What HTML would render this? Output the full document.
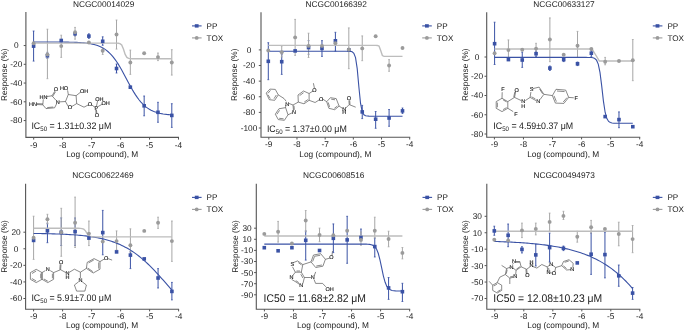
<!DOCTYPE html>
<html><head><meta charset="utf-8"><style>
html,body{margin:0;padding:0;background:#fff;}
svg{display:block;will-change:transform;}
text{text-rendering:geometricPrecision;}
.t{font-family:'Liberation Sans',sans-serif;font-size:8.3px;fill:#1a1a1a;}
.ti{font-family:'Liberation Sans',sans-serif;font-size:8.3px;fill:#1a1a1a;}
.ic{font-family:'Liberation Sans',sans-serif;font-size:8.85px;fill:#1a1a1a;}
.ic2{font-family:'Liberation Sans',sans-serif;font-size:10.38px;fill:#1a1a1a;}
.lg{font-family:'Liberation Sans',sans-serif;font-size:8.15px;fill:#1a1a1a;}
.s{font-family:'Liberation Sans',sans-serif;font-size:5.5px;fill:#111;stroke:#111;stroke-width:0.12px;}
.st{fill:none;stroke:#3a3a3a;stroke-width:0.6;}
</style></head><body>
<svg width="685" height="331" viewBox="0 0 685 331">
<rect width="685" height="331" fill="#fff"/>
<path d="M25.9,12.1 V137.4 H179.0" fill="none" stroke="#555" stroke-width="1.1"/>
<line x1="33.70" y1="137.4" x2="33.70" y2="139.6" stroke="#555" stroke-width="1"/>
<text x="33.70" y="147.5" text-anchor="middle" class="t">-9</text>
<line x1="62.66" y1="137.4" x2="62.66" y2="139.6" stroke="#555" stroke-width="1"/>
<text x="62.66" y="147.5" text-anchor="middle" class="t">-8</text>
<line x1="91.62" y1="137.4" x2="91.62" y2="139.6" stroke="#555" stroke-width="1"/>
<text x="91.62" y="147.5" text-anchor="middle" class="t">-7</text>
<line x1="120.58" y1="137.4" x2="120.58" y2="139.6" stroke="#555" stroke-width="1"/>
<text x="120.58" y="147.5" text-anchor="middle" class="t">-6</text>
<line x1="149.54" y1="137.4" x2="149.54" y2="139.6" stroke="#555" stroke-width="1"/>
<text x="149.54" y="147.5" text-anchor="middle" class="t">-5</text>
<line x1="178.50" y1="137.4" x2="178.50" y2="139.6" stroke="#555" stroke-width="1"/>
<text x="178.50" y="147.5" text-anchor="middle" class="t">-4</text>
<line x1="23.7" y1="45.55" x2="25.9" y2="45.55" stroke="#555" stroke-width="1"/>
<text x="16.3" y="48.45" text-anchor="middle" class="t">0</text>
<line x1="23.7" y1="64.30" x2="25.9" y2="64.30" stroke="#555" stroke-width="1"/>
<text x="16.3" y="67.20" text-anchor="middle" class="t">-20</text>
<line x1="23.7" y1="83.05" x2="25.9" y2="83.05" stroke="#555" stroke-width="1"/>
<text x="16.3" y="85.95" text-anchor="middle" class="t">-40</text>
<line x1="23.7" y1="101.80" x2="25.9" y2="101.80" stroke="#555" stroke-width="1"/>
<text x="16.3" y="104.70" text-anchor="middle" class="t">-60</text>
<line x1="23.7" y1="120.55" x2="25.9" y2="120.55" stroke="#555" stroke-width="1"/>
<text x="16.3" y="123.45" text-anchor="middle" class="t">-80</text>
<text x="103.60" y="6.6" text-anchor="middle" class="ti">NCGC00014029</text>
<text x="102.20" y="156.70" text-anchor="middle" class="t">Log (compound), M</text>
<text transform="translate(7.0,74.75) rotate(-90)" text-anchor="middle" class="t">Response (%)</text>
<line x1="192.0" y1="25.9" x2="201.6" y2="25.9" stroke="#3a52a5" stroke-width="1.1"/>
<rect x="194.79999999999998" y="24.2" width="3.8" height="3.4" fill="#3a52a5"/>
<text x="206.6" y="28.5" class="lg">PP</text>
<line x1="192.0" y1="37.9" x2="201.6" y2="37.9" stroke="#9b9b9b" stroke-width="1.1"/>
<circle cx="196.7" cy="37.9" r="1.9" fill="#9b9b9b"/>
<text x="206.6" y="40.5" class="lg">TOX</text>
<path class="st" d="M36.6,104.5 L42.8,104.8 M36.64,103.60 L42.84,103.90 M42.8,104.8 L43.3,99.3 M46.5,96.6 L52.0,95.8 M52.0,95.8 L54.8,91.2 M52.77,96.27 L55.57,91.67 M52.0,95.8 L56.0,100.3 M56.6,103.8 L54.6,107.8 M54.6,107.8 L46.0,108.6 M53.23,107.02 L47.21,107.58 M46.0,108.6 L42.8,104.8 M59.3,101.9 L65.5,101.5 M65.5,101.5 L68.3,94.5 L76.1,95.7 L76.7,103.6 L71.6,106.6 M68.3,106.6 L65.5,101.5 M68.3,94.5 L67.6,90.3 M76.1,95.7 L80.0,92.6 M76.7,103.6 L84.0,107.2 L88.3,104.9 M91.3,104.6 L95.0,107.3 M96.5,106.0 L97.6,101.0 M98.0,106.6 L102.2,104.2 M96.4,109.5 L96.8,113.2 M95.70,109.58 L96.10,113.28"/><text x="29.0" y="106.39999999999999" text-anchor="start" class="s">HN</text><text x="43.5" y="98.5" text-anchor="middle" class="s">HN</text><text x="55.9" y="91.2" text-anchor="middle" class="s">O</text><text x="57.7" y="103.8" text-anchor="middle" class="s">N</text><text x="64.0" y="90.0" text-anchor="middle" class="s">HO</text><text x="84.0" y="93.3" text-anchor="middle" class="s">OH</text><text x="69.9" y="109.0" text-anchor="middle" class="s">O</text><text x="89.8" y="106.1" text-anchor="middle" class="s">O</text><text x="96.3" y="109.8" text-anchor="middle" class="s">P</text><text x="99.3" y="101.39999999999999" text-anchor="middle" class="s">OH</text><text x="105.6" y="105.2" text-anchor="middle" class="s">OH</text><text x="96.9" y="116.89999999999999" text-anchor="middle" class="s">O</text>
<line x1="33.60" y1="31.00" x2="33.60" y2="61.10" stroke="#3a52a5" stroke-width="1"/>
<line x1="32.70" y1="31.00" x2="34.50" y2="31.00" stroke="#3a52a5" stroke-width="0.8"/>
<line x1="32.70" y1="61.10" x2="34.50" y2="61.10" stroke="#3a52a5" stroke-width="0.8"/>
<line x1="47.42" y1="52.30" x2="47.42" y2="58.50" stroke="#3a52a5" stroke-width="1"/>
<line x1="46.52" y1="52.30" x2="48.32" y2="52.30" stroke="#3a52a5" stroke-width="0.8"/>
<line x1="46.52" y1="58.50" x2="48.32" y2="58.50" stroke="#3a52a5" stroke-width="0.8"/>
<line x1="75.06" y1="31.50" x2="75.06" y2="36.00" stroke="#3a52a5" stroke-width="1"/>
<line x1="74.16" y1="31.50" x2="75.96" y2="31.50" stroke="#3a52a5" stroke-width="0.8"/>
<line x1="74.16" y1="36.00" x2="75.96" y2="36.00" stroke="#3a52a5" stroke-width="0.8"/>
<line x1="88.88" y1="33.80" x2="88.88" y2="38.40" stroke="#3a52a5" stroke-width="1"/>
<line x1="87.98" y1="33.80" x2="89.78" y2="33.80" stroke="#3a52a5" stroke-width="0.8"/>
<line x1="87.98" y1="38.40" x2="89.78" y2="38.40" stroke="#3a52a5" stroke-width="0.8"/>
<line x1="102.70" y1="36.80" x2="102.70" y2="45.30" stroke="#3a52a5" stroke-width="1"/>
<line x1="101.80" y1="36.80" x2="103.60" y2="36.80" stroke="#3a52a5" stroke-width="0.8"/>
<line x1="101.80" y1="45.30" x2="103.60" y2="45.30" stroke="#3a52a5" stroke-width="0.8"/>
<line x1="116.52" y1="64.00" x2="116.52" y2="73.00" stroke="#3a52a5" stroke-width="1"/>
<line x1="115.62" y1="64.00" x2="117.42" y2="64.00" stroke="#3a52a5" stroke-width="0.8"/>
<line x1="115.62" y1="73.00" x2="117.42" y2="73.00" stroke="#3a52a5" stroke-width="0.8"/>
<line x1="144.16" y1="96.00" x2="144.16" y2="115.80" stroke="#3a52a5" stroke-width="1"/>
<line x1="143.26" y1="96.00" x2="145.06" y2="96.00" stroke="#3a52a5" stroke-width="0.8"/>
<line x1="143.26" y1="115.80" x2="145.06" y2="115.80" stroke="#3a52a5" stroke-width="0.8"/>
<line x1="157.98" y1="102.30" x2="157.98" y2="122.30" stroke="#3a52a5" stroke-width="1"/>
<line x1="157.08" y1="102.30" x2="158.88" y2="102.30" stroke="#3a52a5" stroke-width="0.8"/>
<line x1="157.08" y1="122.30" x2="158.88" y2="122.30" stroke="#3a52a5" stroke-width="0.8"/>
<line x1="171.80" y1="103.70" x2="171.80" y2="127.40" stroke="#3a52a5" stroke-width="1"/>
<line x1="170.90" y1="103.70" x2="172.70" y2="103.70" stroke="#3a52a5" stroke-width="0.8"/>
<line x1="170.90" y1="127.40" x2="172.70" y2="127.40" stroke="#3a52a5" stroke-width="0.8"/>
<line x1="47.42" y1="29.20" x2="47.42" y2="78.70" stroke="#a6a6a6" stroke-width="1"/>
<line x1="46.52" y1="29.20" x2="48.32" y2="29.20" stroke="#a6a6a6" stroke-width="0.8"/>
<line x1="46.52" y1="78.70" x2="48.32" y2="78.70" stroke="#a6a6a6" stroke-width="0.8"/>
<line x1="61.24" y1="35.20" x2="61.24" y2="57.40" stroke="#a6a6a6" stroke-width="1"/>
<line x1="60.34" y1="35.20" x2="62.14" y2="35.20" stroke="#a6a6a6" stroke-width="0.8"/>
<line x1="60.34" y1="57.40" x2="62.14" y2="57.40" stroke="#a6a6a6" stroke-width="0.8"/>
<line x1="75.06" y1="27.40" x2="75.06" y2="39.20" stroke="#a6a6a6" stroke-width="1"/>
<line x1="74.16" y1="27.40" x2="75.96" y2="27.40" stroke="#a6a6a6" stroke-width="0.8"/>
<line x1="74.16" y1="39.20" x2="75.96" y2="39.20" stroke="#a6a6a6" stroke-width="0.8"/>
<line x1="102.70" y1="48.10" x2="102.70" y2="54.50" stroke="#a6a6a6" stroke-width="1"/>
<line x1="101.80" y1="48.10" x2="103.60" y2="48.10" stroke="#a6a6a6" stroke-width="0.8"/>
<line x1="101.80" y1="54.50" x2="103.60" y2="54.50" stroke="#a6a6a6" stroke-width="0.8"/>
<line x1="116.52" y1="20.00" x2="116.52" y2="49.10" stroke="#a6a6a6" stroke-width="1"/>
<line x1="115.62" y1="20.00" x2="117.42" y2="20.00" stroke="#a6a6a6" stroke-width="0.8"/>
<line x1="115.62" y1="49.10" x2="117.42" y2="49.10" stroke="#a6a6a6" stroke-width="0.8"/>
<line x1="130.34" y1="50.10" x2="130.34" y2="74.40" stroke="#a6a6a6" stroke-width="1"/>
<line x1="129.44" y1="50.10" x2="131.24" y2="50.10" stroke="#a6a6a6" stroke-width="0.8"/>
<line x1="129.44" y1="74.40" x2="131.24" y2="74.40" stroke="#a6a6a6" stroke-width="0.8"/>
<line x1="157.98" y1="53.00" x2="157.98" y2="60.60" stroke="#a6a6a6" stroke-width="1"/>
<line x1="157.08" y1="53.00" x2="158.88" y2="53.00" stroke="#a6a6a6" stroke-width="0.8"/>
<line x1="157.08" y1="60.60" x2="158.88" y2="60.60" stroke="#a6a6a6" stroke-width="0.8"/>
<line x1="171.80" y1="49.70" x2="171.80" y2="75.10" stroke="#a6a6a6" stroke-width="1"/>
<line x1="170.90" y1="49.70" x2="172.70" y2="49.70" stroke="#a6a6a6" stroke-width="0.8"/>
<line x1="170.90" y1="75.10" x2="172.70" y2="75.10" stroke="#a6a6a6" stroke-width="0.8"/>
<path d="M33.60,41.97 L35.33,41.97 L37.05,41.97 L38.78,41.97 L40.51,41.97 L42.24,41.97 L43.97,41.98 L45.69,41.98 L47.42,41.98 L49.15,41.99 L50.88,41.99 L52.60,42.00 L54.33,42.00 L56.06,42.01 L57.79,42.02 L59.51,42.03 L61.24,42.05 L62.97,42.07 L64.70,42.09 L66.42,42.11 L68.15,42.14 L69.88,42.18 L71.61,42.22 L73.33,42.27 L75.06,42.33 L76.79,42.40 L78.52,42.49 L80.24,42.59 L81.97,42.71 L83.70,42.85 L85.43,43.03 L87.15,43.23 L88.88,43.47 L90.61,43.76 L92.34,44.10 L94.06,44.50 L95.79,44.98 L97.52,45.54 L99.25,46.19 L100.97,46.96 L102.70,47.86 L104.43,48.90 L106.16,50.10 L107.88,51.48 L109.61,53.05 L111.34,54.83 L113.06,56.83 L114.79,59.06 L116.52,61.50 L118.25,64.16 L119.98,67.01 L121.70,70.03 L123.43,73.18 L125.16,76.41 L126.89,79.68 L128.61,82.94 L130.34,86.13 L132.07,89.21 L133.80,92.14 L135.52,94.89 L137.25,97.43 L138.98,99.75 L140.71,101.85 L142.43,103.72 L144.16,105.39 L145.89,106.85 L147.62,108.13 L149.34,109.24 L151.07,110.19 L152.80,111.02 L154.53,111.72 L156.25,112.32 L157.98,112.83 L159.71,113.26 L161.44,113.63 L163.16,113.94 L164.89,114.20 L166.62,114.42 L168.35,114.60 L170.07,114.76 L171.80,114.89" fill="none" stroke="#3a52a5" stroke-width="1.1"/>
<path d="M33.60,43.10 L35.33,43.10 L37.05,43.10 L38.78,43.10 L40.51,43.10 L42.24,43.10 L43.97,43.10 L45.69,43.10 L47.42,43.10 L49.15,43.10 L50.88,43.10 L52.60,43.10 L54.33,43.10 L56.06,43.10 L57.79,43.10 L59.51,43.10 L61.24,43.10 L62.97,43.10 L64.70,43.10 L66.42,43.10 L68.15,43.10 L69.88,43.10 L71.61,43.10 L73.33,43.10 L75.06,43.10 L76.79,43.10 L78.52,43.10 L80.24,43.10 L81.97,43.10 L83.70,43.10 L85.43,43.10 L87.15,43.10 L88.88,43.10 L90.61,43.10 L92.34,43.10 L94.06,43.10 L95.79,43.10 L97.52,43.10 L99.25,43.10 L100.97,43.10 L102.70,43.10 L104.43,43.10 L106.16,43.10 L107.88,43.10 L109.61,43.10 L111.34,43.10 L113.06,43.10 L114.79,43.11 L116.52,43.13 L118.25,43.22 L119.98,43.59 L121.70,45.04 L123.43,49.05 L125.16,54.45 L126.89,57.46 L128.61,58.40 L130.34,58.63 L132.07,58.68 L133.80,58.70 L135.52,58.70 L137.25,58.70 L138.98,58.70 L140.71,58.70 L142.43,58.70 L144.16,58.70 L145.89,58.70 L147.62,58.70 L149.34,58.70 L151.07,58.70 L152.80,58.70 L154.53,58.70 L156.25,58.70 L157.98,58.70 L159.71,58.70 L161.44,58.70 L163.16,58.70 L164.89,58.70 L166.62,58.70 L168.35,58.70 L170.07,58.70 L171.80,58.70" fill="none" stroke="#bdbdbd" stroke-width="1.4"/>
<rect x="31.80" y="44.30" width="3.6" height="3.6" fill="#3a52a5"/>
<rect x="45.62" y="54.00" width="3.6" height="3.6" fill="#3a52a5"/>
<rect x="59.44" y="38.70" width="3.6" height="3.6" fill="#3a52a5"/>
<rect x="73.26" y="32.00" width="3.6" height="3.6" fill="#3a52a5"/>
<rect x="87.08" y="34.30" width="3.6" height="3.6" fill="#3a52a5"/>
<rect x="100.90" y="39.50" width="3.6" height="3.6" fill="#3a52a5"/>
<rect x="114.72" y="66.70" width="3.6" height="3.6" fill="#3a52a5"/>
<rect x="128.54" y="85.40" width="3.6" height="3.6" fill="#3a52a5"/>
<rect x="142.36" y="104.00" width="3.6" height="3.6" fill="#3a52a5"/>
<rect x="156.18" y="110.50" width="3.6" height="3.6" fill="#3a52a5"/>
<rect x="170.00" y="113.60" width="3.6" height="3.6" fill="#3a52a5"/>
<circle cx="33.60" cy="43.20" r="1.95" fill="#9b9b9b"/>
<circle cx="47.42" cy="54.50" r="1.95" fill="#9b9b9b"/>
<circle cx="61.24" cy="46.10" r="1.95" fill="#9b9b9b"/>
<circle cx="75.06" cy="32.30" r="1.95" fill="#9b9b9b"/>
<circle cx="88.88" cy="42.50" r="1.95" fill="#9b9b9b"/>
<circle cx="102.70" cy="50.80" r="1.95" fill="#9b9b9b"/>
<circle cx="116.52" cy="34.50" r="1.95" fill="#9b9b9b"/>
<circle cx="130.34" cy="62.50" r="1.95" fill="#9b9b9b"/>
<circle cx="144.16" cy="53.30" r="1.95" fill="#9b9b9b"/>
<circle cx="157.98" cy="57.10" r="1.95" fill="#9b9b9b"/>
<circle cx="171.80" cy="62.50" r="1.95" fill="#9b9b9b"/>
<text transform="translate(31.4,129.4) scale(1,1.07)" class="ic">IC<tspan font-size="6.1" dy="1.9">50</tspan><tspan dy="-1.9"> = 1.31±0.32 μM</tspan></text>
<path d="M261.0,12.3 V137.3 H410.20000000000005" fill="none" stroke="#555" stroke-width="1.1"/>
<line x1="268.80" y1="137.3" x2="268.80" y2="139.5" stroke="#555" stroke-width="1"/>
<text x="268.80" y="147.4" text-anchor="middle" class="t">-9</text>
<line x1="296.98" y1="137.3" x2="296.98" y2="139.5" stroke="#555" stroke-width="1"/>
<text x="296.98" y="147.4" text-anchor="middle" class="t">-8</text>
<line x1="325.16" y1="137.3" x2="325.16" y2="139.5" stroke="#555" stroke-width="1"/>
<text x="325.16" y="147.4" text-anchor="middle" class="t">-7</text>
<line x1="353.34" y1="137.3" x2="353.34" y2="139.5" stroke="#555" stroke-width="1"/>
<text x="353.34" y="147.4" text-anchor="middle" class="t">-6</text>
<line x1="381.52" y1="137.3" x2="381.52" y2="139.5" stroke="#555" stroke-width="1"/>
<text x="381.52" y="147.4" text-anchor="middle" class="t">-5</text>
<line x1="409.70" y1="137.3" x2="409.70" y2="139.5" stroke="#555" stroke-width="1"/>
<text x="409.70" y="147.4" text-anchor="middle" class="t">-4</text>
<line x1="258.8" y1="49.90" x2="261.0" y2="49.90" stroke="#555" stroke-width="1"/>
<text x="249.0" y="52.80" text-anchor="middle" class="t">0</text>
<line x1="258.8" y1="65.52" x2="261.0" y2="65.52" stroke="#555" stroke-width="1"/>
<text x="249.0" y="68.42" text-anchor="middle" class="t">-20</text>
<line x1="258.8" y1="81.14" x2="261.0" y2="81.14" stroke="#555" stroke-width="1"/>
<text x="249.0" y="84.04" text-anchor="middle" class="t">-40</text>
<line x1="258.8" y1="96.76" x2="261.0" y2="96.76" stroke="#555" stroke-width="1"/>
<text x="249.0" y="99.66" text-anchor="middle" class="t">-60</text>
<line x1="258.8" y1="112.38" x2="261.0" y2="112.38" stroke="#555" stroke-width="1"/>
<text x="249.0" y="115.28" text-anchor="middle" class="t">-80</text>
<line x1="258.8" y1="128.00" x2="261.0" y2="128.00" stroke="#555" stroke-width="1"/>
<text x="249.0" y="130.90" text-anchor="middle" class="t">-100</text>
<text x="336.15" y="6.6" text-anchor="middle" class="ti">NCGC00166392</text>
<text x="335.35" y="156.60" text-anchor="middle" class="t">Log (compound), M</text>
<text transform="translate(237.4,74.80) rotate(-90)" text-anchor="middle" class="t">Response (%)</text>
<line x1="422.2" y1="25.9" x2="431.79999999999995" y2="25.9" stroke="#3a52a5" stroke-width="1.1"/>
<rect x="425.0" y="24.2" width="3.8" height="3.4" fill="#3a52a5"/>
<text x="436.79999999999995" y="28.5" class="lg">PP</text>
<line x1="422.2" y1="37.9" x2="431.79999999999995" y2="37.9" stroke="#9b9b9b" stroke-width="1.1"/>
<circle cx="426.9" cy="37.9" r="1.9" fill="#9b9b9b"/>
<text x="436.79999999999995" y="40.5" class="lg">TOX</text>
<path class="st" d="M266.2,93.1 L269.9,89.1 L275.3,89.4 L278.3,94.9 L274.7,100.3 L269.3,99.7 L266.2,93.1 M267.9,93.4 L270.5,90.4 M276.3,95.0 L274.0,98.7 M270.3,98.6 L268.0,94.8 M278.3,94.9 L284.0,98.5 L286.2,101.3 M288.6,103.3 L293.0,105.0 M293.0,105.0 L293.5,110.8 M293.97,105.79 L294.32,109.85 M292.2,112.8 L288.0,114.8 M285.8,105.0 L285.6,107.6 L288.0,114.8 M285.6,107.6 L278.9,108.8 L275.3,114.2 L278.3,119.6 L284.4,120.3 L288.0,114.8 M279.6,110.3 L276.9,114.3 M279.2,118.3 L283.6,118.8 M293.0,105.0 L298.3,102.1 M298.3,102.1 L298.0,95.0 L303.5,91.0 L309.1,93.5 L309.1,100.3 L304.0,103.8 L298.3,102.1 M299.6,95.6 L303.6,92.7 M307.8,99.6 L304.2,102.1 M309.1,93.5 L313.0,91.0 M314.4,88.0 L313.4,83.2 M309.1,100.3 L315.1,102.5 L319.8,99.5 M322.6,99.0 L326.7,101.7 M326.7,101.7 L330.4,97.7 L336.2,98.6 L339.1,106.1 L334.7,109.7 L328.9,108.3 L326.7,101.7 M331.2,99.2 L335.0,99.8 M337.4,106.0 L334.3,108.4 M329.6,106.9 L328.2,102.4 M339.1,106.1 L342.6,108.4 M345.6,108.2 L349.2,104.6 L355.7,107.2 M349.2,104.6 L348.9,100.3 M350.00,104.54 L349.70,100.24"/><text x="287.3" y="105.5" text-anchor="middle" class="s">N</text><text x="294.0" y="114.39999999999999" text-anchor="middle" class="s">N</text><text x="314.3" y="91.6" text-anchor="middle" class="s">O</text><text x="321.2" y="100.6" text-anchor="middle" class="s">O</text><text x="344.2" y="110.7" text-anchor="middle" class="s">N</text><text x="344.2" y="114.39999999999999" text-anchor="middle" class="s">H</text><text x="348.8" y="100.2" text-anchor="middle" class="s">O</text>
<line x1="268.30" y1="42.70" x2="268.30" y2="79.70" stroke="#3a52a5" stroke-width="1"/>
<line x1="267.40" y1="42.70" x2="269.20" y2="42.70" stroke="#3a52a5" stroke-width="0.8"/>
<line x1="267.40" y1="79.70" x2="269.20" y2="79.70" stroke="#3a52a5" stroke-width="0.8"/>
<line x1="281.72" y1="54.30" x2="281.72" y2="74.40" stroke="#3a52a5" stroke-width="1"/>
<line x1="280.82" y1="54.30" x2="282.62" y2="54.30" stroke="#3a52a5" stroke-width="0.8"/>
<line x1="280.82" y1="74.40" x2="282.62" y2="74.40" stroke="#3a52a5" stroke-width="0.8"/>
<line x1="308.56" y1="40.60" x2="308.56" y2="54.30" stroke="#3a52a5" stroke-width="1"/>
<line x1="307.66" y1="40.60" x2="309.46" y2="40.60" stroke="#3a52a5" stroke-width="0.8"/>
<line x1="307.66" y1="54.30" x2="309.46" y2="54.30" stroke="#3a52a5" stroke-width="0.8"/>
<line x1="321.98" y1="40.60" x2="321.98" y2="56.40" stroke="#3a52a5" stroke-width="1"/>
<line x1="321.08" y1="40.60" x2="322.88" y2="40.60" stroke="#3a52a5" stroke-width="0.8"/>
<line x1="321.08" y1="56.40" x2="322.88" y2="56.40" stroke="#3a52a5" stroke-width="0.8"/>
<line x1="335.40" y1="32.30" x2="335.40" y2="51.20" stroke="#3a52a5" stroke-width="1"/>
<line x1="334.50" y1="32.30" x2="336.30" y2="32.30" stroke="#3a52a5" stroke-width="0.8"/>
<line x1="334.50" y1="51.20" x2="336.30" y2="51.20" stroke="#3a52a5" stroke-width="0.8"/>
<line x1="362.24" y1="105.40" x2="362.24" y2="118.60" stroke="#3a52a5" stroke-width="1"/>
<line x1="361.34" y1="105.40" x2="363.14" y2="105.40" stroke="#3a52a5" stroke-width="0.8"/>
<line x1="361.34" y1="118.60" x2="363.14" y2="118.60" stroke="#3a52a5" stroke-width="0.8"/>
<line x1="375.66" y1="111.50" x2="375.66" y2="128.30" stroke="#3a52a5" stroke-width="1"/>
<line x1="374.76" y1="111.50" x2="376.56" y2="111.50" stroke="#3a52a5" stroke-width="0.8"/>
<line x1="374.76" y1="128.30" x2="376.56" y2="128.30" stroke="#3a52a5" stroke-width="0.8"/>
<line x1="389.08" y1="109.50" x2="389.08" y2="126.30" stroke="#3a52a5" stroke-width="1"/>
<line x1="388.18" y1="109.50" x2="389.98" y2="109.50" stroke="#3a52a5" stroke-width="0.8"/>
<line x1="388.18" y1="126.30" x2="389.98" y2="126.30" stroke="#3a52a5" stroke-width="0.8"/>
<line x1="402.50" y1="108.00" x2="402.50" y2="113.50" stroke="#3a52a5" stroke-width="1"/>
<line x1="401.60" y1="108.00" x2="403.40" y2="108.00" stroke="#3a52a5" stroke-width="0.8"/>
<line x1="401.60" y1="113.50" x2="403.40" y2="113.50" stroke="#3a52a5" stroke-width="0.8"/>
<line x1="281.72" y1="45.90" x2="281.72" y2="57.00" stroke="#a6a6a6" stroke-width="1"/>
<line x1="280.82" y1="45.90" x2="282.62" y2="45.90" stroke="#a6a6a6" stroke-width="0.8"/>
<line x1="280.82" y1="57.00" x2="282.62" y2="57.00" stroke="#a6a6a6" stroke-width="0.8"/>
<line x1="295.14" y1="19.40" x2="295.14" y2="55.40" stroke="#a6a6a6" stroke-width="1"/>
<line x1="294.24" y1="19.40" x2="296.04" y2="19.40" stroke="#a6a6a6" stroke-width="0.8"/>
<line x1="294.24" y1="55.40" x2="296.04" y2="55.40" stroke="#a6a6a6" stroke-width="0.8"/>
<line x1="308.56" y1="33.20" x2="308.56" y2="57.50" stroke="#a6a6a6" stroke-width="1"/>
<line x1="307.66" y1="33.20" x2="309.46" y2="33.20" stroke="#a6a6a6" stroke-width="0.8"/>
<line x1="307.66" y1="57.50" x2="309.46" y2="57.50" stroke="#a6a6a6" stroke-width="0.8"/>
<line x1="348.82" y1="27.90" x2="348.82" y2="68.70" stroke="#a6a6a6" stroke-width="1"/>
<line x1="347.92" y1="27.90" x2="349.72" y2="27.90" stroke="#a6a6a6" stroke-width="0.8"/>
<line x1="347.92" y1="68.70" x2="349.72" y2="68.70" stroke="#a6a6a6" stroke-width="0.8"/>
<line x1="362.24" y1="35.90" x2="362.24" y2="60.70" stroke="#a6a6a6" stroke-width="1"/>
<line x1="361.34" y1="35.90" x2="363.14" y2="35.90" stroke="#a6a6a6" stroke-width="0.8"/>
<line x1="361.34" y1="60.70" x2="363.14" y2="60.70" stroke="#a6a6a6" stroke-width="0.8"/>
<line x1="389.08" y1="59.60" x2="389.08" y2="71.30" stroke="#a6a6a6" stroke-width="1"/>
<line x1="388.18" y1="59.60" x2="389.98" y2="59.60" stroke="#a6a6a6" stroke-width="0.8"/>
<line x1="388.18" y1="71.30" x2="389.98" y2="71.30" stroke="#a6a6a6" stroke-width="0.8"/>
<path d="M268.30,51.20 L269.98,51.20 L271.66,51.20 L273.33,51.20 L275.01,51.20 L276.69,51.20 L278.37,51.20 L280.04,51.20 L281.72,51.20 L283.40,51.20 L285.07,51.20 L286.75,51.20 L288.43,51.20 L290.11,51.20 L291.79,51.20 L293.46,51.20 L295.14,51.20 L296.82,51.20 L298.50,51.20 L300.17,51.20 L301.85,51.20 L303.53,51.20 L305.20,51.20 L306.88,51.20 L308.56,51.20 L310.24,51.20 L311.92,51.20 L313.59,51.20 L315.27,51.20 L316.95,51.20 L318.62,51.20 L320.30,51.20 L321.98,51.20 L323.66,51.20 L325.33,51.20 L327.01,51.20 L328.69,51.20 L330.37,51.20 L332.05,51.20 L333.72,51.20 L335.40,51.20 L337.08,51.20 L338.75,51.20 L340.43,51.20 L342.11,51.20 L343.79,51.20 L345.47,51.21 L347.14,51.22 L348.82,51.26 L350.50,51.39 L352.18,51.83 L353.85,53.26 L355.53,57.62 L357.21,68.65 L358.88,87.02 L360.56,103.48 L362.24,111.79 L363.92,114.82 L365.60,115.78 L367.27,116.07 L368.95,116.16 L370.63,116.19 L372.31,116.20 L373.98,116.20 L375.66,116.20 L377.34,116.20 L379.01,116.20 L380.69,116.20 L382.37,116.20 L384.05,116.20 L385.73,116.20 L387.40,116.20 L389.08,116.20 L390.76,116.20 L392.44,116.20 L394.11,116.20 L395.79,116.20 L397.47,116.20 L399.14,116.20 L400.82,116.20 L402.50,116.20" fill="none" stroke="#3a52a5" stroke-width="1.1"/>
<path d="M268.30,45.40 L269.98,45.40 L271.66,45.40 L273.33,45.40 L275.01,45.40 L276.69,45.40 L278.37,45.40 L280.04,45.40 L281.72,45.40 L283.40,45.40 L285.07,45.40 L286.75,45.40 L288.43,45.40 L290.11,45.40 L291.79,45.40 L293.46,45.40 L295.14,45.40 L296.82,45.40 L298.50,45.40 L300.17,45.40 L301.85,45.40 L303.53,45.40 L305.20,45.40 L306.88,45.40 L308.56,45.40 L310.24,45.40 L311.92,45.40 L313.59,45.40 L315.27,45.40 L316.95,45.40 L318.62,45.40 L320.30,45.40 L321.98,45.40 L323.66,45.40 L325.33,45.40 L327.01,45.40 L328.69,45.40 L330.37,45.40 L332.05,45.40 L333.72,45.40 L335.40,45.40 L337.08,45.40 L338.75,45.40 L340.43,45.40 L342.11,45.40 L343.79,45.40 L345.47,45.40 L347.14,45.40 L348.82,45.40 L350.50,45.40 L352.18,45.40 L353.85,45.40 L355.53,45.40 L357.21,45.40 L358.88,45.40 L360.56,45.40 L362.24,45.40 L363.92,45.40 L365.60,45.40 L367.27,45.40 L368.95,45.40 L370.63,45.40 L372.31,45.40 L373.98,45.40 L375.66,45.40 L377.34,45.44 L379.01,46.00 L380.69,50.43 L382.37,55.57 L384.05,56.34 L385.73,56.40 L387.40,56.40 L389.08,56.40 L390.76,56.40 L392.44,56.40 L394.11,56.40 L395.79,56.40 L397.47,56.40 L399.14,56.40 L400.82,56.40 L402.50,56.40" fill="none" stroke="#bdbdbd" stroke-width="1.4"/>
<rect x="266.50" y="59.50" width="3.6" height="3.6" fill="#3a52a5"/>
<rect x="279.92" y="59.90" width="3.6" height="3.6" fill="#3a52a5"/>
<rect x="293.34" y="49.10" width="3.6" height="3.6" fill="#3a52a5"/>
<rect x="306.76" y="45.80" width="3.6" height="3.6" fill="#3a52a5"/>
<rect x="320.18" y="46.60" width="3.6" height="3.6" fill="#3a52a5"/>
<rect x="333.60" y="39.00" width="3.6" height="3.6" fill="#3a52a5"/>
<rect x="347.02" y="48.00" width="3.6" height="3.6" fill="#3a52a5"/>
<rect x="360.44" y="110.10" width="3.6" height="3.6" fill="#3a52a5"/>
<rect x="373.86" y="117.40" width="3.6" height="3.6" fill="#3a52a5"/>
<rect x="387.28" y="116.20" width="3.6" height="3.6" fill="#3a52a5"/>
<rect x="400.70" y="109.10" width="3.6" height="3.6" fill="#3a52a5"/>
<circle cx="268.30" cy="50.50" r="1.95" fill="#9b9b9b"/>
<circle cx="281.72" cy="52.20" r="1.95" fill="#9b9b9b"/>
<circle cx="295.14" cy="37.40" r="1.95" fill="#9b9b9b"/>
<circle cx="308.56" cy="45.90" r="1.95" fill="#9b9b9b"/>
<circle cx="321.98" cy="45.90" r="1.95" fill="#9b9b9b"/>
<circle cx="335.40" cy="43.30" r="1.95" fill="#9b9b9b"/>
<circle cx="348.82" cy="49.50" r="1.95" fill="#9b9b9b"/>
<circle cx="362.24" cy="48.40" r="1.95" fill="#9b9b9b"/>
<circle cx="375.66" cy="36.30" r="1.95" fill="#9b9b9b"/>
<circle cx="389.08" cy="65.50" r="1.95" fill="#9b9b9b"/>
<circle cx="402.50" cy="48.00" r="1.95" fill="#9b9b9b"/>
<text transform="translate(266.9,131.6) scale(1,1.07)" class="ic">IC<tspan font-size="6.1" dy="1.9">50</tspan><tspan dy="-1.9"> = 1.37±0.00 μM</tspan></text>
<path d="M486.7,12.2 V137.2 H640.1999999999999" fill="none" stroke="#555" stroke-width="1.1"/>
<line x1="494.40" y1="137.2" x2="494.40" y2="139.39999999999998" stroke="#555" stroke-width="1"/>
<text x="494.40" y="147.29999999999998" text-anchor="middle" class="t">-9</text>
<line x1="523.46" y1="137.2" x2="523.46" y2="139.39999999999998" stroke="#555" stroke-width="1"/>
<text x="523.46" y="147.29999999999998" text-anchor="middle" class="t">-8</text>
<line x1="552.52" y1="137.2" x2="552.52" y2="139.39999999999998" stroke="#555" stroke-width="1"/>
<text x="552.52" y="147.29999999999998" text-anchor="middle" class="t">-7</text>
<line x1="581.58" y1="137.2" x2="581.58" y2="139.39999999999998" stroke="#555" stroke-width="1"/>
<text x="581.58" y="147.29999999999998" text-anchor="middle" class="t">-6</text>
<line x1="610.64" y1="137.2" x2="610.64" y2="139.39999999999998" stroke="#555" stroke-width="1"/>
<text x="610.64" y="147.29999999999998" text-anchor="middle" class="t">-5</text>
<line x1="639.70" y1="137.2" x2="639.70" y2="139.39999999999998" stroke="#555" stroke-width="1"/>
<text x="639.70" y="147.29999999999998" text-anchor="middle" class="t">-4</text>
<line x1="484.5" y1="57.00" x2="486.7" y2="57.00" stroke="#555" stroke-width="1"/>
<text x="477.1" y="59.90" text-anchor="middle" class="t">0</text>
<line x1="484.5" y1="76.25" x2="486.7" y2="76.25" stroke="#555" stroke-width="1"/>
<text x="477.1" y="79.15" text-anchor="middle" class="t">-20</text>
<line x1="484.5" y1="95.50" x2="486.7" y2="95.50" stroke="#555" stroke-width="1"/>
<text x="477.1" y="98.40" text-anchor="middle" class="t">-40</text>
<line x1="484.5" y1="114.75" x2="486.7" y2="114.75" stroke="#555" stroke-width="1"/>
<text x="477.1" y="117.65" text-anchor="middle" class="t">-60</text>
<line x1="484.5" y1="134.00" x2="486.7" y2="134.00" stroke="#555" stroke-width="1"/>
<text x="477.1" y="136.90" text-anchor="middle" class="t">-80</text>
<text x="564.00" y="6.6" text-anchor="middle" class="ti">NCGC00633127</text>
<text x="563.20" y="156.50" text-anchor="middle" class="t">Log (compound), M</text>
<text transform="translate(468.0,74.70) rotate(-90)" text-anchor="middle" class="t">Response (%)</text>
<line x1="652.8" y1="25.9" x2="662.4" y2="25.9" stroke="#3a52a5" stroke-width="1.1"/>
<rect x="655.6" y="24.2" width="3.8" height="3.4" fill="#3a52a5"/>
<text x="667.4" y="28.5" class="lg">PP</text>
<line x1="652.8" y1="37.9" x2="662.4" y2="37.9" stroke="#9b9b9b" stroke-width="1.1"/>
<circle cx="657.5" cy="37.9" r="1.9" fill="#9b9b9b"/>
<text x="667.4" y="40.5" class="lg">TOX</text>
<path class="st" d="M502.0,98.3 L507.8,101.6 L507.8,108.3 L502.0,111.6 L496.2,108.3 L496.2,101.6 L502.0,98.3 M503.1,99.9 L506.6,101.9 M506.6,107.6 L503.1,109.6 M497.4,107.3 L497.4,102.6 M502.0,98.3 L502.2,92.2 M507.8,108.3 L513.2,111.6 M507.8,101.6 L514.5,97.4 L521.3,100.6 M514.5,97.4 L515.6,92.0 M513.72,97.24 L514.82,91.84 M525.3,100.6 L530.1,97.4 M530.1,97.4 L530.9,92.0 M533.0,88.6 L539.1,87.1 L543.9,94.3 M539.6,89.0 L542.6,93.8 M543.9,94.3 L540.0,99.6 M536.0,100.6 L530.1,97.4 M535.4,98.9 L531.5,96.8 M543.9,94.3 L552.4,95.6 M552.4,95.6 L556.0,89.3 L565.7,90.1 L568.7,97.4 L563.9,103.4 L555.4,103.1 L552.4,95.6 M557.0,91.0 L564.6,91.6 M567.0,97.6 L563.2,102.0 M556.4,101.6 L554.0,95.8 M568.7,97.4 L573.8,97.8"/><text x="502.9" y="91.1" text-anchor="middle" class="s">F</text><text x="515.9" y="115.8" text-anchor="middle" class="s">F</text><text x="516.6" y="91.6" text-anchor="middle" class="s">O</text><text x="523.3" y="102.89999999999999" text-anchor="middle" class="s">N</text><text x="523.3" y="108.3" text-anchor="middle" class="s">H</text><text x="531.6" y="91.2" text-anchor="middle" class="s">S</text><text x="538.2" y="102.89999999999999" text-anchor="middle" class="s">N</text><text x="576.2" y="99.8" text-anchor="middle" class="s">F</text>
<line x1="494.60" y1="22.20" x2="494.60" y2="64.50" stroke="#3a52a5" stroke-width="1"/>
<line x1="493.70" y1="22.20" x2="495.50" y2="22.20" stroke="#3a52a5" stroke-width="0.8"/>
<line x1="493.70" y1="64.50" x2="495.50" y2="64.50" stroke="#3a52a5" stroke-width="0.8"/>
<line x1="522.24" y1="52.20" x2="522.24" y2="67.40" stroke="#3a52a5" stroke-width="1"/>
<line x1="521.34" y1="52.20" x2="523.14" y2="52.20" stroke="#3a52a5" stroke-width="0.8"/>
<line x1="521.34" y1="67.40" x2="523.14" y2="67.40" stroke="#3a52a5" stroke-width="0.8"/>
<line x1="536.06" y1="51.00" x2="536.06" y2="56.40" stroke="#3a52a5" stroke-width="1"/>
<line x1="535.16" y1="51.00" x2="536.96" y2="51.00" stroke="#3a52a5" stroke-width="0.8"/>
<line x1="535.16" y1="56.40" x2="536.96" y2="56.40" stroke="#3a52a5" stroke-width="0.8"/>
<line x1="549.88" y1="66.00" x2="549.88" y2="70.50" stroke="#3a52a5" stroke-width="1"/>
<line x1="548.98" y1="66.00" x2="550.78" y2="66.00" stroke="#3a52a5" stroke-width="0.8"/>
<line x1="548.98" y1="70.50" x2="550.78" y2="70.50" stroke="#3a52a5" stroke-width="0.8"/>
<line x1="563.70" y1="57.60" x2="563.70" y2="61.60" stroke="#3a52a5" stroke-width="1"/>
<line x1="562.80" y1="57.60" x2="564.60" y2="57.60" stroke="#3a52a5" stroke-width="0.8"/>
<line x1="562.80" y1="61.60" x2="564.60" y2="61.60" stroke="#3a52a5" stroke-width="0.8"/>
<line x1="577.52" y1="62.00" x2="577.52" y2="65.60" stroke="#3a52a5" stroke-width="1"/>
<line x1="576.62" y1="62.00" x2="578.42" y2="62.00" stroke="#3a52a5" stroke-width="0.8"/>
<line x1="576.62" y1="65.60" x2="578.42" y2="65.60" stroke="#3a52a5" stroke-width="0.8"/>
<line x1="591.34" y1="50.00" x2="591.34" y2="56.40" stroke="#3a52a5" stroke-width="1"/>
<line x1="590.44" y1="50.00" x2="592.24" y2="50.00" stroke="#3a52a5" stroke-width="0.8"/>
<line x1="590.44" y1="56.40" x2="592.24" y2="56.40" stroke="#3a52a5" stroke-width="0.8"/>
<line x1="618.98" y1="111.90" x2="618.98" y2="127.70" stroke="#3a52a5" stroke-width="1"/>
<line x1="618.08" y1="111.90" x2="619.88" y2="111.90" stroke="#3a52a5" stroke-width="0.8"/>
<line x1="618.08" y1="127.70" x2="619.88" y2="127.70" stroke="#3a52a5" stroke-width="0.8"/>
<line x1="508.42" y1="39.90" x2="508.42" y2="57.50" stroke="#a6a6a6" stroke-width="1"/>
<line x1="507.52" y1="39.90" x2="509.32" y2="39.90" stroke="#a6a6a6" stroke-width="0.8"/>
<line x1="507.52" y1="57.50" x2="509.32" y2="57.50" stroke="#a6a6a6" stroke-width="0.8"/>
<line x1="536.06" y1="43.30" x2="536.06" y2="54.00" stroke="#a6a6a6" stroke-width="1"/>
<line x1="535.16" y1="43.30" x2="536.96" y2="43.30" stroke="#a6a6a6" stroke-width="0.8"/>
<line x1="535.16" y1="54.00" x2="536.96" y2="54.00" stroke="#a6a6a6" stroke-width="0.8"/>
<line x1="549.88" y1="17.90" x2="549.88" y2="61.70" stroke="#a6a6a6" stroke-width="1"/>
<line x1="548.98" y1="17.90" x2="550.78" y2="17.90" stroke="#a6a6a6" stroke-width="0.8"/>
<line x1="548.98" y1="61.70" x2="550.78" y2="61.70" stroke="#a6a6a6" stroke-width="0.8"/>
<line x1="577.52" y1="31.40" x2="577.52" y2="57.40" stroke="#a6a6a6" stroke-width="1"/>
<line x1="576.62" y1="31.40" x2="578.42" y2="31.40" stroke="#a6a6a6" stroke-width="0.8"/>
<line x1="576.62" y1="57.40" x2="578.42" y2="57.40" stroke="#a6a6a6" stroke-width="0.8"/>
<line x1="605.16" y1="57.40" x2="605.16" y2="64.80" stroke="#a6a6a6" stroke-width="1"/>
<line x1="604.26" y1="57.40" x2="606.06" y2="57.40" stroke="#a6a6a6" stroke-width="0.8"/>
<line x1="604.26" y1="64.80" x2="606.06" y2="64.80" stroke="#a6a6a6" stroke-width="0.8"/>
<line x1="632.80" y1="39.50" x2="632.80" y2="80.70" stroke="#a6a6a6" stroke-width="1"/>
<line x1="631.90" y1="39.50" x2="633.70" y2="39.50" stroke="#a6a6a6" stroke-width="0.8"/>
<line x1="631.90" y1="80.70" x2="633.70" y2="80.70" stroke="#a6a6a6" stroke-width="0.8"/>
<path d="M494.60,57.40 L496.33,57.40 L498.06,57.40 L499.78,57.40 L501.51,57.40 L503.24,57.40 L504.97,57.40 L506.69,57.40 L508.42,57.40 L510.15,57.40 L511.88,57.40 L513.60,57.40 L515.33,57.40 L517.06,57.40 L518.78,57.40 L520.51,57.40 L522.24,57.40 L523.97,57.40 L525.70,57.40 L527.42,57.40 L529.15,57.40 L530.88,57.40 L532.61,57.40 L534.33,57.40 L536.06,57.40 L537.79,57.40 L539.51,57.40 L541.24,57.40 L542.97,57.40 L544.70,57.40 L546.42,57.40 L548.15,57.40 L549.88,57.40 L551.61,57.40 L553.34,57.40 L555.06,57.40 L556.79,57.40 L558.52,57.40 L560.25,57.40 L561.97,57.40 L563.70,57.40 L565.43,57.40 L567.15,57.40 L568.88,57.40 L570.61,57.40 L572.34,57.40 L574.06,57.40 L575.79,57.40 L577.52,57.40 L579.25,57.40 L580.98,57.40 L582.70,57.40 L584.43,57.40 L586.16,57.41 L587.88,57.43 L589.61,57.46 L591.34,57.57 L593.07,57.83 L594.79,58.50 L596.52,60.18 L598.25,64.14 L599.98,72.39 L601.70,85.89 L603.43,101.11 L605.16,112.49 L606.89,118.65 L608.62,121.42 L610.34,122.56 L612.07,123.01 L613.80,123.19 L615.52,123.26 L617.25,123.28 L618.98,123.29 L620.71,123.30 L622.43,123.30 L624.16,123.30 L625.89,123.30 L627.62,123.30 L629.35,123.30 L631.07,123.30 L632.80,123.30" fill="none" stroke="#3a52a5" stroke-width="1.1"/>
<path d="M494.6,49 L592,49 L599.4,61 L632.8,61" fill="none" stroke="#bdbdbd" stroke-width="1.4"/>
<rect x="492.80" y="41.90" width="3.6" height="3.6" fill="#3a52a5"/>
<rect x="506.62" y="57.80" width="3.6" height="3.6" fill="#3a52a5"/>
<rect x="520.44" y="58.20" width="3.6" height="3.6" fill="#3a52a5"/>
<rect x="534.26" y="51.90" width="3.6" height="3.6" fill="#3a52a5"/>
<rect x="548.08" y="66.30" width="3.6" height="3.6" fill="#3a52a5"/>
<rect x="561.90" y="57.80" width="3.6" height="3.6" fill="#3a52a5"/>
<rect x="575.72" y="62.00" width="3.6" height="3.6" fill="#3a52a5"/>
<rect x="589.54" y="51.40" width="3.6" height="3.6" fill="#3a52a5"/>
<rect x="603.36" y="114.80" width="3.6" height="3.6" fill="#3a52a5"/>
<rect x="617.18" y="117.80" width="3.6" height="3.6" fill="#3a52a5"/>
<rect x="631.00" y="124.90" width="3.6" height="3.6" fill="#3a52a5"/>
<circle cx="494.60" cy="53.30" r="1.95" fill="#9b9b9b"/>
<circle cx="508.42" cy="50.10" r="1.95" fill="#9b9b9b"/>
<circle cx="522.24" cy="49.70" r="1.95" fill="#9b9b9b"/>
<circle cx="536.06" cy="48.60" r="1.95" fill="#9b9b9b"/>
<circle cx="549.88" cy="39.50" r="1.95" fill="#9b9b9b"/>
<circle cx="563.70" cy="54.80" r="1.95" fill="#9b9b9b"/>
<circle cx="577.52" cy="45.80" r="1.95" fill="#9b9b9b"/>
<circle cx="591.34" cy="49.00" r="1.95" fill="#9b9b9b"/>
<circle cx="605.16" cy="61.70" r="1.95" fill="#9b9b9b"/>
<circle cx="618.98" cy="61.00" r="1.95" fill="#9b9b9b"/>
<circle cx="632.80" cy="60.20" r="1.95" fill="#9b9b9b"/>
<text transform="translate(493.3,128.9) scale(1,1.07)" class="ic">IC<tspan font-size="6.1" dy="1.9">50</tspan><tspan dy="-1.9"> = 4.59±0.37 μM</tspan></text>
<path d="M25.6,183.7 V309.2 H179.1" fill="none" stroke="#555" stroke-width="1.1"/>
<line x1="33.60" y1="309.2" x2="33.60" y2="311.4" stroke="#555" stroke-width="1"/>
<text x="33.60" y="319.3" text-anchor="middle" class="t">-9</text>
<line x1="62.60" y1="309.2" x2="62.60" y2="311.4" stroke="#555" stroke-width="1"/>
<text x="62.60" y="319.3" text-anchor="middle" class="t">-8</text>
<line x1="91.60" y1="309.2" x2="91.60" y2="311.4" stroke="#555" stroke-width="1"/>
<text x="91.60" y="319.3" text-anchor="middle" class="t">-7</text>
<line x1="120.60" y1="309.2" x2="120.60" y2="311.4" stroke="#555" stroke-width="1"/>
<text x="120.60" y="319.3" text-anchor="middle" class="t">-6</text>
<line x1="149.60" y1="309.2" x2="149.60" y2="311.4" stroke="#555" stroke-width="1"/>
<text x="149.60" y="319.3" text-anchor="middle" class="t">-5</text>
<line x1="178.60" y1="309.2" x2="178.60" y2="311.4" stroke="#555" stroke-width="1"/>
<text x="178.60" y="319.3" text-anchor="middle" class="t">-4</text>
<line x1="23.400000000000002" y1="232.20" x2="25.6" y2="232.20" stroke="#555" stroke-width="1"/>
<text x="16.1" y="235.10" text-anchor="middle" class="t">20</text>
<line x1="23.400000000000002" y1="248.77" x2="25.6" y2="248.77" stroke="#555" stroke-width="1"/>
<text x="16.1" y="251.67" text-anchor="middle" class="t">0</text>
<line x1="23.400000000000002" y1="265.35" x2="25.6" y2="265.35" stroke="#555" stroke-width="1"/>
<text x="16.1" y="268.25" text-anchor="middle" class="t">-20</text>
<line x1="23.400000000000002" y1="281.93" x2="25.6" y2="281.93" stroke="#555" stroke-width="1"/>
<text x="16.1" y="284.82" text-anchor="middle" class="t">-40</text>
<line x1="23.400000000000002" y1="298.50" x2="25.6" y2="298.50" stroke="#555" stroke-width="1"/>
<text x="16.1" y="301.40" text-anchor="middle" class="t">-60</text>
<text x="102.90" y="178.3" text-anchor="middle" class="ti">NCGC00622469</text>
<text x="102.10" y="327.80" text-anchor="middle" class="t">Log (compound), M</text>
<text transform="translate(6.9,246.45) rotate(-90)" text-anchor="middle" class="t">Response (%)</text>
<line x1="192.0" y1="197.4" x2="201.6" y2="197.4" stroke="#3a52a5" stroke-width="1.1"/>
<rect x="194.79999999999998" y="195.70000000000002" width="3.8" height="3.4" fill="#3a52a5"/>
<text x="206.6" y="200.0" class="lg">PP</text>
<line x1="192.0" y1="209.4" x2="201.6" y2="209.4" stroke="#9b9b9b" stroke-width="1.1"/>
<circle cx="196.7" cy="209.4" r="1.9" fill="#9b9b9b"/>
<text x="206.6" y="212.0" class="lg">TOX</text>
<path class="st" d="M45.4,270.6 L42.0,272.6 L42.0,279.3 L47.8,282.6 L53.6,279.3 L53.6,272.6 L50.2,270.6 M52.4,273.6 L52.4,278.3 M47.8,281.2 L43.9,279.0 M36.2,269.3 L42.0,272.6 L42.0,279.3 L36.2,282.6 L30.4,279.3 L30.4,272.6 L36.2,269.3 M32.0,273.5 L36.2,271.0 M40.7,273.6 L40.7,278.4 M36.2,281.0 L31.9,278.5 M53.6,272.6 L60.6,269.7 L65.8,272.6 M60.6,269.7 L61.0,264.3 M59.80,269.64 L60.20,264.24 M69.2,272.4 L74.4,269.2 L80.4,272.2 L80.4,278.5 M80.4,272.2 L86.4,268.4 M86.4,268.4 L87.2,262.4 L94.0,258.6 L100.0,261.6 L100.0,269.2 L93.2,273.0 L86.4,268.4 M88.6,262.9 L93.8,260.0 M98.7,262.4 L98.7,268.6 M92.8,271.6 L87.7,268.0 M100.0,261.6 L104.3,259.0 M107.9,258.6 L112.1,260.1 M82.2,281.8 L86.4,285.0 L84.9,291.1 L76.6,291.1 L74.4,285.0 L78.6,281.8"/><text x="47.8" y="271.2" text-anchor="middle" class="s">N</text><text x="61.1" y="264.0" text-anchor="middle" class="s">O</text><text x="67.6" y="274.7" text-anchor="middle" class="s">N</text><text x="67.6" y="278.8" text-anchor="middle" class="s">H</text><text x="80.4" y="282.3" text-anchor="middle" class="s">N</text><text x="106.1" y="260.1" text-anchor="middle" class="s">O</text>
<line x1="47.43" y1="223.20" x2="47.43" y2="242.70" stroke="#3a52a5" stroke-width="1"/>
<line x1="46.53" y1="223.20" x2="48.33" y2="223.20" stroke="#3a52a5" stroke-width="0.8"/>
<line x1="46.53" y1="242.70" x2="48.33" y2="242.70" stroke="#3a52a5" stroke-width="0.8"/>
<line x1="61.26" y1="217.90" x2="61.26" y2="245.50" stroke="#3a52a5" stroke-width="1"/>
<line x1="60.36" y1="217.90" x2="62.16" y2="217.90" stroke="#3a52a5" stroke-width="0.8"/>
<line x1="60.36" y1="245.50" x2="62.16" y2="245.50" stroke="#3a52a5" stroke-width="0.8"/>
<line x1="75.09" y1="217.90" x2="75.09" y2="245.50" stroke="#3a52a5" stroke-width="1"/>
<line x1="74.19" y1="217.90" x2="75.99" y2="217.90" stroke="#3a52a5" stroke-width="0.8"/>
<line x1="74.19" y1="245.50" x2="75.99" y2="245.50" stroke="#3a52a5" stroke-width="0.8"/>
<line x1="102.75" y1="210.40" x2="102.75" y2="254.80" stroke="#3a52a5" stroke-width="1"/>
<line x1="101.85" y1="210.40" x2="103.65" y2="210.40" stroke="#3a52a5" stroke-width="0.8"/>
<line x1="101.85" y1="254.80" x2="103.65" y2="254.80" stroke="#3a52a5" stroke-width="0.8"/>
<line x1="130.41" y1="251.80" x2="130.41" y2="268.60" stroke="#3a52a5" stroke-width="1"/>
<line x1="129.51" y1="251.80" x2="131.31" y2="251.80" stroke="#3a52a5" stroke-width="0.8"/>
<line x1="129.51" y1="268.60" x2="131.31" y2="268.60" stroke="#3a52a5" stroke-width="0.8"/>
<line x1="158.07" y1="268.60" x2="158.07" y2="288.00" stroke="#3a52a5" stroke-width="1"/>
<line x1="157.17" y1="268.60" x2="158.97" y2="268.60" stroke="#3a52a5" stroke-width="0.8"/>
<line x1="157.17" y1="288.00" x2="158.97" y2="288.00" stroke="#3a52a5" stroke-width="0.8"/>
<line x1="171.90" y1="282.40" x2="171.90" y2="299.90" stroke="#3a52a5" stroke-width="1"/>
<line x1="171.00" y1="282.40" x2="172.80" y2="282.40" stroke="#3a52a5" stroke-width="0.8"/>
<line x1="171.00" y1="299.90" x2="172.80" y2="299.90" stroke="#3a52a5" stroke-width="0.8"/>
<line x1="33.60" y1="216.20" x2="33.60" y2="259.40" stroke="#a6a6a6" stroke-width="1"/>
<line x1="32.70" y1="216.20" x2="34.50" y2="216.20" stroke="#a6a6a6" stroke-width="0.8"/>
<line x1="32.70" y1="259.40" x2="34.50" y2="259.40" stroke="#a6a6a6" stroke-width="0.8"/>
<line x1="47.43" y1="214.30" x2="47.43" y2="224.00" stroke="#a6a6a6" stroke-width="1"/>
<line x1="46.53" y1="214.30" x2="48.33" y2="214.30" stroke="#a6a6a6" stroke-width="0.8"/>
<line x1="46.53" y1="224.00" x2="48.33" y2="224.00" stroke="#a6a6a6" stroke-width="0.8"/>
<line x1="61.26" y1="208.30" x2="61.26" y2="256.30" stroke="#a6a6a6" stroke-width="1"/>
<line x1="60.36" y1="208.30" x2="62.16" y2="208.30" stroke="#a6a6a6" stroke-width="0.8"/>
<line x1="60.36" y1="256.30" x2="62.16" y2="256.30" stroke="#a6a6a6" stroke-width="0.8"/>
<line x1="75.09" y1="197.10" x2="75.09" y2="247.50" stroke="#a6a6a6" stroke-width="1"/>
<line x1="74.19" y1="197.10" x2="75.99" y2="197.10" stroke="#a6a6a6" stroke-width="0.8"/>
<line x1="74.19" y1="247.50" x2="75.99" y2="247.50" stroke="#a6a6a6" stroke-width="0.8"/>
<line x1="88.92" y1="221.00" x2="88.92" y2="245.60" stroke="#a6a6a6" stroke-width="1"/>
<line x1="88.02" y1="221.00" x2="89.82" y2="221.00" stroke="#a6a6a6" stroke-width="0.8"/>
<line x1="88.02" y1="245.60" x2="89.82" y2="245.60" stroke="#a6a6a6" stroke-width="0.8"/>
<line x1="116.58" y1="230.90" x2="116.58" y2="250.00" stroke="#a6a6a6" stroke-width="1"/>
<line x1="115.68" y1="230.90" x2="117.48" y2="230.90" stroke="#a6a6a6" stroke-width="0.8"/>
<line x1="115.68" y1="250.00" x2="117.48" y2="250.00" stroke="#a6a6a6" stroke-width="0.8"/>
<line x1="130.41" y1="228.80" x2="130.41" y2="252.00" stroke="#a6a6a6" stroke-width="1"/>
<line x1="129.51" y1="228.80" x2="131.31" y2="228.80" stroke="#a6a6a6" stroke-width="0.8"/>
<line x1="129.51" y1="252.00" x2="131.31" y2="252.00" stroke="#a6a6a6" stroke-width="0.8"/>
<line x1="158.07" y1="217.20" x2="158.07" y2="228.40" stroke="#a6a6a6" stroke-width="1"/>
<line x1="157.17" y1="217.20" x2="158.97" y2="217.20" stroke="#a6a6a6" stroke-width="0.8"/>
<line x1="157.17" y1="228.40" x2="158.97" y2="228.40" stroke="#a6a6a6" stroke-width="0.8"/>
<line x1="171.90" y1="221.00" x2="171.90" y2="261.40" stroke="#a6a6a6" stroke-width="1"/>
<line x1="171.00" y1="221.00" x2="172.80" y2="221.00" stroke="#a6a6a6" stroke-width="0.8"/>
<line x1="171.00" y1="261.40" x2="172.80" y2="261.40" stroke="#a6a6a6" stroke-width="0.8"/>
<path d="M33.60,233.47 L35.33,233.49 L37.06,233.52 L38.79,233.54 L40.52,233.57 L42.24,233.60 L43.97,233.63 L45.70,233.67 L47.43,233.71 L49.16,233.75 L50.89,233.79 L52.62,233.84 L54.34,233.89 L56.07,233.95 L57.80,234.01 L59.53,234.07 L61.26,234.14 L62.99,234.22 L64.72,234.30 L66.45,234.39 L68.18,234.48 L69.90,234.58 L71.63,234.69 L73.36,234.81 L75.09,234.94 L76.82,235.07 L78.55,235.22 L80.28,235.37 L82.01,235.54 L83.73,235.73 L85.46,235.92 L87.19,236.13 L88.92,236.36 L90.65,236.60 L92.38,236.86 L94.11,237.14 L95.84,237.44 L97.56,237.76 L99.29,238.10 L101.02,238.47 L102.75,238.87 L104.48,239.29 L106.21,239.74 L107.94,240.22 L109.67,240.74 L111.39,241.29 L113.12,241.87 L114.85,242.50 L116.58,243.16 L118.31,243.87 L120.04,244.62 L121.77,245.41 L123.50,246.26 L125.22,247.15 L126.95,248.09 L128.68,249.09 L130.41,250.14 L132.14,251.24 L133.87,252.41 L135.60,253.63 L137.32,254.90 L139.05,256.24 L140.78,257.63 L142.51,259.08 L144.24,260.58 L145.97,262.14 L147.70,263.76 L149.43,265.42 L151.16,267.14 L152.88,268.90 L154.61,270.70 L156.34,272.54 L158.07,274.42 L159.80,276.33 L161.53,278.26 L163.26,280.21 L164.99,282.18 L166.71,284.15 L168.44,286.13 L170.17,288.11 L171.90,290.08" fill="none" stroke="#3a52a5" stroke-width="1.1"/>
<path d="M33.60,228.30 L35.33,228.30 L37.06,228.30 L38.79,228.30 L40.52,228.30 L42.24,228.30 L43.97,228.30 L45.70,228.30 L47.43,228.30 L49.16,228.30 L50.89,228.30 L52.62,228.30 L54.34,228.30 L56.07,228.30 L57.80,228.30 L59.53,228.30 L61.26,228.30 L62.99,228.30 L64.72,228.30 L66.45,228.30 L68.18,228.30 L69.90,228.30 L71.63,228.30 L73.36,228.30 L75.09,228.30 L76.82,228.31 L78.55,228.32 L80.28,228.37 L82.01,228.57 L83.73,229.20 L85.46,230.87 L87.19,233.54 L88.92,235.62 L90.65,236.51 L92.38,236.79 L94.11,236.87 L95.84,236.89 L97.56,236.90 L99.29,236.90 L101.02,236.90 L102.75,236.90 L104.48,236.90 L106.21,236.90 L107.94,236.90 L109.67,236.90 L111.39,236.90 L113.12,236.90 L114.85,236.90 L116.58,236.90 L118.31,236.90 L120.04,236.90 L121.77,236.90 L123.50,236.90 L125.22,236.90 L126.95,236.90 L128.68,236.90 L130.41,236.90 L132.14,236.90 L133.87,236.90 L135.60,236.90 L137.32,236.90 L139.05,236.90 L140.78,236.90 L142.51,236.90 L144.24,236.90 L145.97,236.90 L147.70,236.90 L149.43,236.90 L151.16,236.90 L152.88,236.90 L154.61,236.90 L156.34,236.90 L158.07,236.90 L159.80,236.90 L161.53,236.90 L163.26,236.90 L164.99,236.90 L166.71,236.90 L168.44,236.90 L170.17,236.90 L171.90,236.90" fill="none" stroke="#bdbdbd" stroke-width="1.4"/>
<rect x="31.80" y="238.60" width="3.6" height="3.6" fill="#3a52a5"/>
<rect x="45.63" y="229.00" width="3.6" height="3.6" fill="#3a52a5"/>
<rect x="59.46" y="230.50" width="3.6" height="3.6" fill="#3a52a5"/>
<rect x="73.29" y="229.80" width="3.6" height="3.6" fill="#3a52a5"/>
<rect x="87.12" y="236.30" width="3.6" height="3.6" fill="#3a52a5"/>
<rect x="100.95" y="230.80" width="3.6" height="3.6" fill="#3a52a5"/>
<rect x="114.78" y="250.10" width="3.6" height="3.6" fill="#3a52a5"/>
<rect x="128.61" y="253.30" width="3.6" height="3.6" fill="#3a52a5"/>
<rect x="142.44" y="257.10" width="3.6" height="3.6" fill="#3a52a5"/>
<rect x="156.27" y="276.20" width="3.6" height="3.6" fill="#3a52a5"/>
<rect x="170.10" y="289.60" width="3.6" height="3.6" fill="#3a52a5"/>
<circle cx="33.60" cy="237.80" r="1.95" fill="#9b9b9b"/>
<circle cx="47.43" cy="219.30" r="1.95" fill="#9b9b9b"/>
<circle cx="61.26" cy="232.30" r="1.95" fill="#9b9b9b"/>
<circle cx="75.09" cy="222.70" r="1.95" fill="#9b9b9b"/>
<circle cx="88.92" cy="233.60" r="1.95" fill="#9b9b9b"/>
<circle cx="102.75" cy="241.60" r="1.95" fill="#9b9b9b"/>
<circle cx="116.58" cy="241.10" r="1.95" fill="#9b9b9b"/>
<circle cx="130.41" cy="245.20" r="1.95" fill="#9b9b9b"/>
<circle cx="144.24" cy="230.90" r="1.95" fill="#9b9b9b"/>
<circle cx="158.07" cy="222.70" r="1.95" fill="#9b9b9b"/>
<circle cx="171.90" cy="241.10" r="1.95" fill="#9b9b9b"/>
<text transform="translate(31.4,300.6) scale(1,1.07)" class="ic">IC<tspan font-size="6.1" dy="1.9">50</tspan><tspan dy="-1.9"> = 5.91±7.00 μM</tspan></text>
<path d="M256.3,183.7 V309.2 H410.15" fill="none" stroke="#555" stroke-width="1.1"/>
<line x1="264.40" y1="309.2" x2="264.40" y2="311.4" stroke="#555" stroke-width="1"/>
<text x="264.40" y="319.3" text-anchor="middle" class="t">-9</text>
<line x1="293.45" y1="309.2" x2="293.45" y2="311.4" stroke="#555" stroke-width="1"/>
<text x="293.45" y="319.3" text-anchor="middle" class="t">-8</text>
<line x1="322.50" y1="309.2" x2="322.50" y2="311.4" stroke="#555" stroke-width="1"/>
<text x="322.50" y="319.3" text-anchor="middle" class="t">-7</text>
<line x1="351.55" y1="309.2" x2="351.55" y2="311.4" stroke="#555" stroke-width="1"/>
<text x="351.55" y="319.3" text-anchor="middle" class="t">-6</text>
<line x1="380.60" y1="309.2" x2="380.60" y2="311.4" stroke="#555" stroke-width="1"/>
<text x="380.60" y="319.3" text-anchor="middle" class="t">-5</text>
<line x1="409.65" y1="309.2" x2="409.65" y2="311.4" stroke="#555" stroke-width="1"/>
<text x="409.65" y="319.3" text-anchor="middle" class="t">-4</text>
<line x1="254.10000000000002" y1="228.20" x2="256.3" y2="228.20" stroke="#555" stroke-width="1"/>
<text x="247.0" y="231.10" text-anchor="middle" class="t">30</text>
<line x1="254.10000000000002" y1="239.30" x2="256.3" y2="239.30" stroke="#555" stroke-width="1"/>
<text x="247.0" y="242.20" text-anchor="middle" class="t">10</text>
<line x1="254.10000000000002" y1="250.40" x2="256.3" y2="250.40" stroke="#555" stroke-width="1"/>
<text x="247.0" y="253.30" text-anchor="middle" class="t">-10</text>
<line x1="254.10000000000002" y1="261.50" x2="256.3" y2="261.50" stroke="#555" stroke-width="1"/>
<text x="247.0" y="264.40" text-anchor="middle" class="t">-30</text>
<line x1="254.10000000000002" y1="272.60" x2="256.3" y2="272.60" stroke="#555" stroke-width="1"/>
<text x="247.0" y="275.50" text-anchor="middle" class="t">-50</text>
<line x1="254.10000000000002" y1="283.70" x2="256.3" y2="283.70" stroke="#555" stroke-width="1"/>
<text x="247.0" y="286.60" text-anchor="middle" class="t">-70</text>
<line x1="254.10000000000002" y1="294.80" x2="256.3" y2="294.80" stroke="#555" stroke-width="1"/>
<text x="247.0" y="297.70" text-anchor="middle" class="t">-90</text>
<text x="333.78" y="178.3" text-anchor="middle" class="ti">NCGC00608516</text>
<text x="332.98" y="327.80" text-anchor="middle" class="t">Log (compound), M</text>
<text transform="translate(237.6,246.45) rotate(-90)" text-anchor="middle" class="t">Response (%)</text>
<line x1="422.5" y1="197.4" x2="432.09999999999997" y2="197.4" stroke="#3a52a5" stroke-width="1.1"/>
<rect x="425.3" y="195.70000000000002" width="3.8" height="3.4" fill="#3a52a5"/>
<text x="437.09999999999997" y="200.0" class="lg">PP</text>
<line x1="422.5" y1="209.4" x2="432.09999999999997" y2="209.4" stroke="#9b9b9b" stroke-width="1.1"/>
<circle cx="427.2" cy="209.4" r="1.9" fill="#9b9b9b"/>
<text x="437.09999999999997" y="212.0" class="lg">TOX</text>
<path class="st" d="M293.6,262.5 L297.6,260.9 L302.8,264.6 L301.3,272.2 L295.3,272.2 L292.5,266.8 M298.3,262.6 L301.5,264.9 M300.0,271.0 L296.5,271.0 M295.3,272.2 L292.6,275.8 M291.6,279.4 L296.0,282.0 L299.6,284.4 M295.8,280.6 L298.8,282.6 M302.9,283.6 L304.4,277.5 L301.3,272.2 M302.9,278.0 L300.8,274.2 M302.8,264.6 L311.0,261.9 M311.0,261.9 L313.5,255.0 L320.7,253.7 L325.4,259.3 L322.9,266.2 L315.7,267.5 L311.0,261.9 M314.5,256.3 L320.2,255.3 M321.9,265.0 L316.3,266.0 M312.6,261.6 L314.5,256.5 M325.4,259.3 L329.5,258.2 M332.0,255.3 L332.5,251.0 M304.4,277.5 L310.8,277.5 M314.2,275.8 L315.7,271.9 M314.0,279.4 L315.6,283.4 L322.6,283.4 L325.8,286.8"/><text x="292.3" y="266.40000000000003" text-anchor="middle" class="s">S</text><text x="291.5" y="279.3" text-anchor="middle" class="s">N</text><text x="301.3" y="286.8" text-anchor="middle" class="s">N</text><text x="312.7" y="279.3" text-anchor="middle" class="s">N</text><text x="329.6" y="291.0" text-anchor="middle" class="s">OH</text><text x="331.3" y="259.0" text-anchor="middle" class="s">O</text>
<line x1="305.73" y1="230.90" x2="305.73" y2="260.10" stroke="#3a52a5" stroke-width="1"/>
<line x1="304.83" y1="230.90" x2="306.63" y2="230.90" stroke="#3a52a5" stroke-width="0.8"/>
<line x1="304.83" y1="260.10" x2="306.63" y2="260.10" stroke="#3a52a5" stroke-width="0.8"/>
<line x1="333.35" y1="223.90" x2="333.35" y2="252.60" stroke="#3a52a5" stroke-width="1"/>
<line x1="332.45" y1="223.90" x2="334.25" y2="223.90" stroke="#3a52a5" stroke-width="0.8"/>
<line x1="332.45" y1="252.60" x2="334.25" y2="252.60" stroke="#3a52a5" stroke-width="0.8"/>
<line x1="347.16" y1="216.30" x2="347.16" y2="263.30" stroke="#3a52a5" stroke-width="1"/>
<line x1="346.26" y1="216.30" x2="348.06" y2="216.30" stroke="#3a52a5" stroke-width="0.8"/>
<line x1="346.26" y1="263.30" x2="348.06" y2="263.30" stroke="#3a52a5" stroke-width="0.8"/>
<line x1="360.97" y1="229.00" x2="360.97" y2="240.80" stroke="#3a52a5" stroke-width="1"/>
<line x1="360.07" y1="229.00" x2="361.87" y2="229.00" stroke="#3a52a5" stroke-width="0.8"/>
<line x1="360.07" y1="240.80" x2="361.87" y2="240.80" stroke="#3a52a5" stroke-width="0.8"/>
<line x1="374.78" y1="238.00" x2="374.78" y2="257.00" stroke="#3a52a5" stroke-width="1"/>
<line x1="373.88" y1="238.00" x2="375.68" y2="238.00" stroke="#3a52a5" stroke-width="0.8"/>
<line x1="373.88" y1="257.00" x2="375.68" y2="257.00" stroke="#3a52a5" stroke-width="0.8"/>
<line x1="388.59" y1="277.50" x2="388.59" y2="299.40" stroke="#3a52a5" stroke-width="1"/>
<line x1="387.69" y1="277.50" x2="389.49" y2="277.50" stroke="#3a52a5" stroke-width="0.8"/>
<line x1="387.69" y1="299.40" x2="389.49" y2="299.40" stroke="#3a52a5" stroke-width="0.8"/>
<line x1="402.40" y1="283.30" x2="402.40" y2="301.50" stroke="#3a52a5" stroke-width="1"/>
<line x1="401.50" y1="283.30" x2="403.30" y2="283.30" stroke="#3a52a5" stroke-width="0.8"/>
<line x1="401.50" y1="301.50" x2="403.30" y2="301.50" stroke="#3a52a5" stroke-width="0.8"/>
<line x1="278.11" y1="221.40" x2="278.11" y2="242.10" stroke="#a6a6a6" stroke-width="1"/>
<line x1="277.21" y1="221.40" x2="279.01" y2="221.40" stroke="#a6a6a6" stroke-width="0.8"/>
<line x1="277.21" y1="242.10" x2="279.01" y2="242.10" stroke="#a6a6a6" stroke-width="0.8"/>
<line x1="305.73" y1="210.50" x2="305.73" y2="231.70" stroke="#a6a6a6" stroke-width="1"/>
<line x1="304.83" y1="210.50" x2="306.63" y2="210.50" stroke="#a6a6a6" stroke-width="0.8"/>
<line x1="304.83" y1="231.70" x2="306.63" y2="231.70" stroke="#a6a6a6" stroke-width="0.8"/>
<line x1="319.54" y1="228.10" x2="319.54" y2="241.70" stroke="#a6a6a6" stroke-width="1"/>
<line x1="318.64" y1="228.10" x2="320.44" y2="228.10" stroke="#a6a6a6" stroke-width="0.8"/>
<line x1="318.64" y1="241.70" x2="320.44" y2="241.70" stroke="#a6a6a6" stroke-width="0.8"/>
<line x1="360.97" y1="232.00" x2="360.97" y2="245.30" stroke="#a6a6a6" stroke-width="1"/>
<line x1="360.07" y1="232.00" x2="361.87" y2="232.00" stroke="#a6a6a6" stroke-width="0.8"/>
<line x1="360.07" y1="245.30" x2="361.87" y2="245.30" stroke="#a6a6a6" stroke-width="0.8"/>
<line x1="374.78" y1="217.20" x2="374.78" y2="238.00" stroke="#a6a6a6" stroke-width="1"/>
<line x1="373.88" y1="217.20" x2="375.68" y2="217.20" stroke="#a6a6a6" stroke-width="0.8"/>
<line x1="373.88" y1="238.00" x2="375.68" y2="238.00" stroke="#a6a6a6" stroke-width="0.8"/>
<line x1="388.59" y1="231.20" x2="388.59" y2="246.80" stroke="#a6a6a6" stroke-width="1"/>
<line x1="387.69" y1="231.20" x2="389.49" y2="231.20" stroke="#a6a6a6" stroke-width="0.8"/>
<line x1="387.69" y1="246.80" x2="389.49" y2="246.80" stroke="#a6a6a6" stroke-width="0.8"/>
<line x1="402.40" y1="247.50" x2="402.40" y2="258.90" stroke="#a6a6a6" stroke-width="1"/>
<line x1="401.50" y1="247.50" x2="403.30" y2="247.50" stroke="#a6a6a6" stroke-width="0.8"/>
<line x1="401.50" y1="258.90" x2="403.30" y2="258.90" stroke="#a6a6a6" stroke-width="0.8"/>
<path d="M264.30,244.10 L266.03,244.10 L267.75,244.10 L269.48,244.10 L271.20,244.10 L272.93,244.10 L274.66,244.10 L276.38,244.10 L278.11,244.10 L279.84,244.10 L281.56,244.10 L283.29,244.10 L285.01,244.10 L286.74,244.10 L288.47,244.10 L290.19,244.10 L291.92,244.10 L293.65,244.10 L295.37,244.10 L297.10,244.10 L298.82,244.10 L300.55,244.10 L302.28,244.10 L304.00,244.10 L305.73,244.10 L307.46,244.10 L309.18,244.10 L310.91,244.10 L312.63,244.10 L314.36,244.10 L316.09,244.10 L317.81,244.10 L319.54,244.10 L321.27,244.10 L322.99,244.10 L324.72,244.10 L326.44,244.10 L328.17,244.10 L329.90,244.10 L331.62,244.10 L333.35,244.10 L335.08,244.10 L336.80,244.10 L338.53,244.10 L340.25,244.10 L341.98,244.10 L343.71,244.10 L345.43,244.10 L347.16,244.10 L348.89,244.10 L350.61,244.10 L352.34,244.10 L354.06,244.10 L355.79,244.10 L357.52,244.10 L359.24,244.10 L360.97,244.11 L362.70,244.12 L364.42,244.13 L366.15,244.17 L367.88,244.25 L369.60,244.40 L371.33,244.72 L373.05,245.36 L374.78,246.63 L376.51,249.04 L378.23,253.27 L379.96,259.77 L381.68,267.97 L383.41,276.06 L385.14,282.34 L386.86,286.37 L388.59,288.64 L390.32,289.82 L392.04,290.42 L393.77,290.72 L395.50,290.86 L397.22,290.93 L398.95,290.97 L400.67,290.98 L402.40,290.99" fill="none" stroke="#3a52a5" stroke-width="1.1"/>
<path d="M264.3,236.0 L402.4,236.0" fill="none" stroke="#bdbdbd" stroke-width="1.4"/>
<rect x="262.50" y="245.90" width="3.6" height="3.6" fill="#3a52a5"/>
<rect x="276.31" y="249.00" width="3.6" height="3.6" fill="#3a52a5"/>
<rect x="290.12" y="245.90" width="3.6" height="3.6" fill="#3a52a5"/>
<rect x="303.93" y="238.50" width="3.6" height="3.6" fill="#3a52a5"/>
<rect x="317.74" y="248.70" width="3.6" height="3.6" fill="#3a52a5"/>
<rect x="331.55" y="236.50" width="3.6" height="3.6" fill="#3a52a5"/>
<rect x="345.36" y="238.10" width="3.6" height="3.6" fill="#3a52a5"/>
<rect x="359.17" y="235.70" width="3.6" height="3.6" fill="#3a52a5"/>
<rect x="372.98" y="244.80" width="3.6" height="3.6" fill="#3a52a5"/>
<rect x="386.79" y="286.10" width="3.6" height="3.6" fill="#3a52a5"/>
<rect x="400.60" y="289.90" width="3.6" height="3.6" fill="#3a52a5"/>
<circle cx="264.30" cy="233.90" r="1.95" fill="#9b9b9b"/>
<circle cx="278.11" cy="231.70" r="1.95" fill="#9b9b9b"/>
<circle cx="291.92" cy="243.50" r="1.95" fill="#9b9b9b"/>
<circle cx="305.73" cy="220.50" r="1.95" fill="#9b9b9b"/>
<circle cx="319.54" cy="235.00" r="1.95" fill="#9b9b9b"/>
<circle cx="333.35" cy="235.30" r="1.95" fill="#9b9b9b"/>
<circle cx="347.16" cy="230.80" r="1.95" fill="#9b9b9b"/>
<circle cx="360.97" cy="239.90" r="1.95" fill="#9b9b9b"/>
<circle cx="374.78" cy="230.80" r="1.95" fill="#9b9b9b"/>
<circle cx="388.59" cy="239.00" r="1.95" fill="#9b9b9b"/>
<circle cx="402.40" cy="252.90" r="1.95" fill="#9b9b9b"/>
<text transform="translate(263.6,301.8) scale(1,1.07)" class="ic2">IC50 = 11.68±2.82 μM</text>
<path d="M486.8,183.7 V309.2 H640.3" fill="none" stroke="#555" stroke-width="1.1"/>
<line x1="494.80" y1="309.2" x2="494.80" y2="311.4" stroke="#555" stroke-width="1"/>
<text x="494.80" y="319.3" text-anchor="middle" class="t">-9</text>
<line x1="523.80" y1="309.2" x2="523.80" y2="311.4" stroke="#555" stroke-width="1"/>
<text x="523.80" y="319.3" text-anchor="middle" class="t">-8</text>
<line x1="552.80" y1="309.2" x2="552.80" y2="311.4" stroke="#555" stroke-width="1"/>
<text x="552.80" y="319.3" text-anchor="middle" class="t">-7</text>
<line x1="581.80" y1="309.2" x2="581.80" y2="311.4" stroke="#555" stroke-width="1"/>
<text x="581.80" y="319.3" text-anchor="middle" class="t">-6</text>
<line x1="610.80" y1="309.2" x2="610.80" y2="311.4" stroke="#555" stroke-width="1"/>
<text x="610.80" y="319.3" text-anchor="middle" class="t">-5</text>
<line x1="639.80" y1="309.2" x2="639.80" y2="311.4" stroke="#555" stroke-width="1"/>
<text x="639.80" y="319.3" text-anchor="middle" class="t">-4</text>
<line x1="484.6" y1="216.30" x2="486.8" y2="216.30" stroke="#555" stroke-width="1"/>
<text x="477.3" y="219.20" text-anchor="middle" class="t">30</text>
<line x1="484.6" y1="232.74" x2="486.8" y2="232.74" stroke="#555" stroke-width="1"/>
<text x="477.3" y="235.64" text-anchor="middle" class="t">10</text>
<line x1="484.6" y1="249.18" x2="486.8" y2="249.18" stroke="#555" stroke-width="1"/>
<text x="477.3" y="252.08" text-anchor="middle" class="t">-10</text>
<line x1="484.6" y1="265.62" x2="486.8" y2="265.62" stroke="#555" stroke-width="1"/>
<text x="477.3" y="268.52" text-anchor="middle" class="t">-30</text>
<line x1="484.6" y1="282.06" x2="486.8" y2="282.06" stroke="#555" stroke-width="1"/>
<text x="477.3" y="284.96" text-anchor="middle" class="t">-50</text>
<line x1="484.6" y1="298.50" x2="486.8" y2="298.50" stroke="#555" stroke-width="1"/>
<text x="477.3" y="301.40" text-anchor="middle" class="t">-70</text>
<text x="564.10" y="178.3" text-anchor="middle" class="ti">NCGC00494973</text>
<text x="563.30" y="327.80" text-anchor="middle" class="t">Log (compound), M</text>
<text transform="translate(468.0,246.45) rotate(-90)" text-anchor="middle" class="t">Response (%)</text>
<line x1="652.8" y1="197.4" x2="662.4" y2="197.4" stroke="#3a52a5" stroke-width="1.1"/>
<rect x="655.6" y="195.70000000000002" width="3.8" height="3.4" fill="#3a52a5"/>
<text x="667.4" y="200.0" class="lg">PP</text>
<line x1="652.8" y1="209.4" x2="662.4" y2="209.4" stroke="#9b9b9b" stroke-width="1.1"/>
<circle cx="657.5" cy="209.4" r="1.9" fill="#9b9b9b"/>
<text x="667.4" y="212.0" class="lg">TOX</text>
<path class="st" d="M512.6,264.6 L513.4,263.0 M515.6,261.5 L519.8,261.5 M515.60,262.30 L519.80,262.30 M519.8,261.5 L521.1,266.8 M521.1,266.8 L516.1,270.4 M519.88,266.69 L516.38,269.21 M516.1,270.4 L513.0,268.0 M516.1,270.4 L515.6,274.8 M513.6,277.2 L509.8,278.1 L505.3,274.5 M510.0,277.0 L513.3,276.2 M505.3,274.5 L506.6,268.6 M506.28,273.79 L507.19,269.66 M506.6,268.6 L510.0,267.2 M506.6,268.6 L501.6,265.4 M509.8,278.1 L509.8,284.0 M505.3,274.5 L499.8,277.2 L497.2,282.6 M497.2,282.6 L501.7,285.2 L501.7,290.4 L497.2,293.0 L492.7,290.4 L492.7,285.2 L497.2,282.6 M493.8,286.0 L497.1,284.0 M500.6,289.8 L497.3,291.8 M492.7,285.2 L489.1,281.3 M521.1,266.8 L526.7,269.3 L530.0,266.8 M526.7,269.3 L527.1,273.8 M525.90,269.37 L526.30,273.87 M533.0,266.6 L536.9,268.1 L541.8,264.5 L547.2,266.9 L550.0,265.0 M552.5,265.2 L555.7,267.5 L554.8,271.5 M552.8,273.1 L550.0,272.8 M547.8,271.0 L547.2,266.9 M548.6,267.9 L549.0,270.6 M555.7,267.5 L561.7,265.7 M561.7,265.7 L563.5,261.5 L569.0,259.7 L573.2,263.3 L572.8,267.6 M571.0,269.6 L566.6,270.0 L561.7,265.7 M564.7,262.3 L568.8,261.0 M566.6,268.6 L563.4,265.8"/><text x="511.6" y="268.6" text-anchor="middle" class="s">N</text><text x="514.0" y="263.3" text-anchor="middle" class="s">N</text><text x="515.2" y="278.40000000000003" text-anchor="middle" class="s">N</text><text x="527.3" y="277.40000000000003" text-anchor="middle" class="s">O</text><text x="531.5" y="267.40000000000003" text-anchor="middle" class="s">N</text><text x="531.5" y="263.8" text-anchor="middle" class="s">H</text><text x="551.2" y="266.1" text-anchor="middle" class="s">N</text><text x="553.9" y="275.1" text-anchor="middle" class="s">O</text><text x="548.6" y="274.40000000000003" text-anchor="middle" class="s">N</text><text x="572.2" y="271.2" text-anchor="middle" class="s">N</text>
<line x1="494.30" y1="226.20" x2="494.30" y2="235.30" stroke="#3a52a5" stroke-width="1"/>
<line x1="493.40" y1="226.20" x2="495.20" y2="226.20" stroke="#3a52a5" stroke-width="0.8"/>
<line x1="493.40" y1="235.30" x2="495.20" y2="235.30" stroke="#3a52a5" stroke-width="0.8"/>
<line x1="508.13" y1="224.00" x2="508.13" y2="246.70" stroke="#3a52a5" stroke-width="1"/>
<line x1="507.23" y1="224.00" x2="509.03" y2="224.00" stroke="#3a52a5" stroke-width="0.8"/>
<line x1="507.23" y1="246.70" x2="509.03" y2="246.70" stroke="#3a52a5" stroke-width="0.8"/>
<line x1="521.96" y1="246.70" x2="521.96" y2="253.00" stroke="#3a52a5" stroke-width="1"/>
<line x1="521.06" y1="246.70" x2="522.86" y2="246.70" stroke="#3a52a5" stroke-width="0.8"/>
<line x1="521.06" y1="253.00" x2="522.86" y2="253.00" stroke="#3a52a5" stroke-width="0.8"/>
<line x1="535.79" y1="244.00" x2="535.79" y2="266.00" stroke="#3a52a5" stroke-width="1"/>
<line x1="534.89" y1="244.00" x2="536.69" y2="244.00" stroke="#3a52a5" stroke-width="0.8"/>
<line x1="534.89" y1="266.00" x2="536.69" y2="266.00" stroke="#3a52a5" stroke-width="0.8"/>
<line x1="549.62" y1="233.10" x2="549.62" y2="262.00" stroke="#3a52a5" stroke-width="1"/>
<line x1="548.72" y1="233.10" x2="550.52" y2="233.10" stroke="#3a52a5" stroke-width="0.8"/>
<line x1="548.72" y1="262.00" x2="550.52" y2="262.00" stroke="#3a52a5" stroke-width="0.8"/>
<line x1="563.45" y1="246.00" x2="563.45" y2="250.60" stroke="#3a52a5" stroke-width="1"/>
<line x1="562.55" y1="246.00" x2="564.35" y2="246.00" stroke="#3a52a5" stroke-width="0.8"/>
<line x1="562.55" y1="250.60" x2="564.35" y2="250.60" stroke="#3a52a5" stroke-width="0.8"/>
<line x1="591.11" y1="233.10" x2="591.11" y2="274.40" stroke="#3a52a5" stroke-width="1"/>
<line x1="590.21" y1="233.10" x2="592.01" y2="233.10" stroke="#3a52a5" stroke-width="0.8"/>
<line x1="590.21" y1="274.40" x2="592.01" y2="274.40" stroke="#3a52a5" stroke-width="0.8"/>
<line x1="604.94" y1="232.20" x2="604.94" y2="277.90" stroke="#3a52a5" stroke-width="1"/>
<line x1="604.04" y1="232.20" x2="605.84" y2="232.20" stroke="#3a52a5" stroke-width="0.8"/>
<line x1="604.04" y1="277.90" x2="605.84" y2="277.90" stroke="#3a52a5" stroke-width="0.8"/>
<line x1="618.77" y1="265.00" x2="618.77" y2="286.30" stroke="#3a52a5" stroke-width="1"/>
<line x1="617.87" y1="265.00" x2="619.67" y2="265.00" stroke="#3a52a5" stroke-width="0.8"/>
<line x1="617.87" y1="286.30" x2="619.67" y2="286.30" stroke="#3a52a5" stroke-width="0.8"/>
<line x1="632.60" y1="287.50" x2="632.60" y2="299.40" stroke="#3a52a5" stroke-width="1"/>
<line x1="631.70" y1="287.50" x2="633.50" y2="287.50" stroke="#3a52a5" stroke-width="0.8"/>
<line x1="631.70" y1="299.40" x2="633.50" y2="299.40" stroke="#3a52a5" stroke-width="0.8"/>
<line x1="521.96" y1="223.10" x2="521.96" y2="237.60" stroke="#a6a6a6" stroke-width="1"/>
<line x1="521.06" y1="223.10" x2="522.86" y2="223.10" stroke="#a6a6a6" stroke-width="0.8"/>
<line x1="521.06" y1="237.60" x2="522.86" y2="237.60" stroke="#a6a6a6" stroke-width="0.8"/>
<line x1="535.79" y1="223.10" x2="535.79" y2="234.90" stroke="#a6a6a6" stroke-width="1"/>
<line x1="534.89" y1="223.10" x2="536.69" y2="223.10" stroke="#a6a6a6" stroke-width="0.8"/>
<line x1="534.89" y1="234.90" x2="536.69" y2="234.90" stroke="#a6a6a6" stroke-width="0.8"/>
<line x1="549.62" y1="213.10" x2="549.62" y2="231.30" stroke="#a6a6a6" stroke-width="1"/>
<line x1="548.72" y1="213.10" x2="550.52" y2="213.10" stroke="#a6a6a6" stroke-width="0.8"/>
<line x1="548.72" y1="231.30" x2="550.52" y2="231.30" stroke="#a6a6a6" stroke-width="0.8"/>
<line x1="563.45" y1="211.30" x2="563.45" y2="219.50" stroke="#a6a6a6" stroke-width="1"/>
<line x1="562.55" y1="211.30" x2="564.35" y2="211.30" stroke="#a6a6a6" stroke-width="0.8"/>
<line x1="562.55" y1="219.50" x2="564.35" y2="219.50" stroke="#a6a6a6" stroke-width="0.8"/>
<line x1="577.28" y1="231.30" x2="577.28" y2="242.20" stroke="#a6a6a6" stroke-width="1"/>
<line x1="576.38" y1="231.30" x2="578.18" y2="231.30" stroke="#a6a6a6" stroke-width="0.8"/>
<line x1="576.38" y1="242.20" x2="578.18" y2="242.20" stroke="#a6a6a6" stroke-width="0.8"/>
<line x1="591.11" y1="220.40" x2="591.11" y2="233.00" stroke="#a6a6a6" stroke-width="1"/>
<line x1="590.21" y1="220.40" x2="592.01" y2="220.40" stroke="#a6a6a6" stroke-width="0.8"/>
<line x1="590.21" y1="233.00" x2="592.01" y2="233.00" stroke="#a6a6a6" stroke-width="0.8"/>
<line x1="618.77" y1="222.20" x2="618.77" y2="245.80" stroke="#a6a6a6" stroke-width="1"/>
<line x1="617.87" y1="222.20" x2="619.67" y2="222.20" stroke="#a6a6a6" stroke-width="0.8"/>
<line x1="617.87" y1="245.80" x2="619.67" y2="245.80" stroke="#a6a6a6" stroke-width="0.8"/>
<line x1="632.60" y1="225.50" x2="632.60" y2="252.70" stroke="#a6a6a6" stroke-width="1"/>
<line x1="631.70" y1="225.50" x2="633.50" y2="225.50" stroke="#a6a6a6" stroke-width="0.8"/>
<line x1="631.70" y1="252.70" x2="633.50" y2="252.70" stroke="#a6a6a6" stroke-width="0.8"/>
<path d="M494.30,241.45 L496.03,241.50 L497.76,241.56 L499.49,241.62 L501.22,241.69 L502.94,241.76 L504.67,241.83 L506.40,241.91 L508.13,241.99 L509.86,242.07 L511.59,242.16 L513.32,242.25 L515.04,242.34 L516.77,242.44 L518.50,242.55 L520.23,242.66 L521.96,242.78 L523.69,242.90 L525.42,243.03 L527.15,243.16 L528.88,243.30 L530.60,243.45 L532.33,243.61 L534.06,243.77 L535.79,243.94 L537.52,244.12 L539.25,244.30 L540.98,244.50 L542.71,244.71 L544.43,244.92 L546.16,245.15 L547.89,245.39 L549.62,245.64 L551.35,245.90 L553.08,246.17 L554.81,246.46 L556.53,246.76 L558.26,247.07 L559.99,247.40 L561.72,247.75 L563.45,248.11 L565.18,248.49 L566.91,248.88 L568.64,249.30 L570.37,249.73 L572.09,250.19 L573.82,250.67 L575.55,251.17 L577.28,251.69 L579.01,252.24 L580.74,252.81 L582.47,253.41 L584.20,254.04 L585.92,254.69 L587.65,255.38 L589.38,256.10 L591.11,256.85 L592.84,257.63 L594.57,258.45 L596.30,259.30 L598.02,260.20 L599.75,261.13 L601.48,262.11 L603.21,263.12 L604.94,264.18 L606.67,265.29 L608.40,266.45 L610.13,267.65 L611.86,268.91 L613.58,270.22 L615.31,271.58 L617.04,273.00 L618.77,274.48 L620.50,276.01 L622.23,277.61 L623.96,279.28 L625.69,281.00 L627.41,282.80 L629.14,284.66 L630.87,286.60 L632.60,288.61" fill="none" stroke="#3a52a5" stroke-width="1.1"/>
<path d="M494.3,231.3 L632.7,231.3" fill="none" stroke="#bdbdbd" stroke-width="1.4"/>
<rect x="492.50" y="229.10" width="3.6" height="3.6" fill="#3a52a5"/>
<rect x="506.33" y="233.50" width="3.6" height="3.6" fill="#3a52a5"/>
<rect x="520.16" y="247.60" width="3.6" height="3.6" fill="#3a52a5"/>
<rect x="533.99" y="253.10" width="3.6" height="3.6" fill="#3a52a5"/>
<rect x="547.82" y="245.80" width="3.6" height="3.6" fill="#3a52a5"/>
<rect x="561.65" y="246.50" width="3.6" height="3.6" fill="#3a52a5"/>
<rect x="575.48" y="261.10" width="3.6" height="3.6" fill="#3a52a5"/>
<rect x="589.31" y="252.40" width="3.6" height="3.6" fill="#3a52a5"/>
<rect x="603.14" y="252.80" width="3.6" height="3.6" fill="#3a52a5"/>
<rect x="616.97" y="274.00" width="3.6" height="3.6" fill="#3a52a5"/>
<rect x="630.80" y="291.30" width="3.6" height="3.6" fill="#3a52a5"/>
<circle cx="494.30" cy="239.80" r="1.95" fill="#9b9b9b"/>
<circle cx="508.13" cy="240.40" r="1.95" fill="#9b9b9b"/>
<circle cx="521.96" cy="230.40" r="1.95" fill="#9b9b9b"/>
<circle cx="535.79" cy="228.90" r="1.95" fill="#9b9b9b"/>
<circle cx="549.62" cy="221.90" r="1.95" fill="#9b9b9b"/>
<circle cx="563.45" cy="215.90" r="1.95" fill="#9b9b9b"/>
<circle cx="577.28" cy="236.70" r="1.95" fill="#9b9b9b"/>
<circle cx="591.11" cy="227.30" r="1.95" fill="#9b9b9b"/>
<circle cx="604.94" cy="228.90" r="1.95" fill="#9b9b9b"/>
<circle cx="618.77" cy="234.00" r="1.95" fill="#9b9b9b"/>
<circle cx="632.60" cy="239.10" r="1.95" fill="#9b9b9b"/>
<text transform="translate(493.3,301.8) scale(1,1.07)" class="ic2">IC50 = 12.08±10.23 μM</text>
</svg></body></html>
